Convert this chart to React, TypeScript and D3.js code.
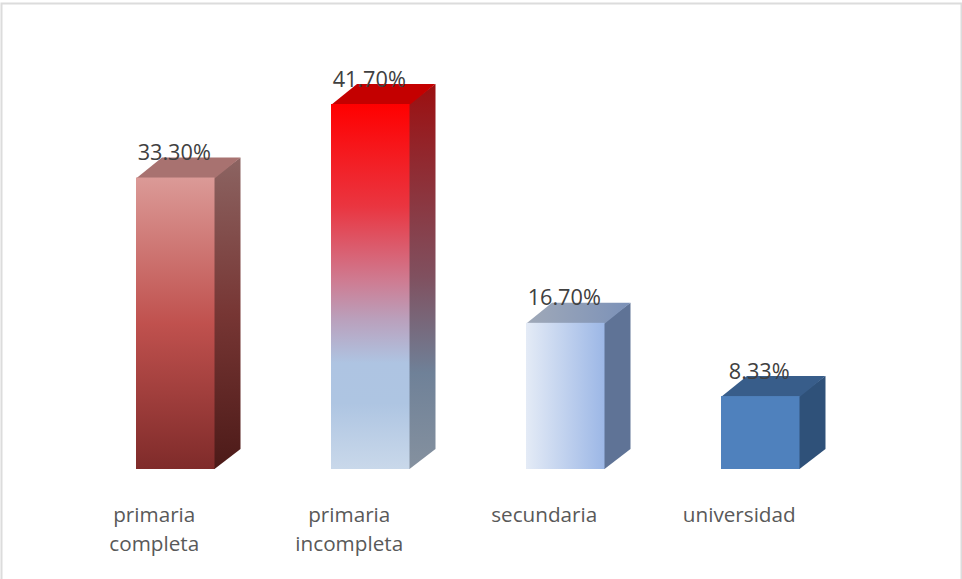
import React from "react";
import * as d3 from "d3";

const categories = ["primaria completa", "primaria incompleta", "secundaria", "universidad"];
const categoryLines = [["primaria", "completa"], ["primaria", "incompleta"], ["secundaria"], ["universidad"]];
const values = [33.3, 41.7, 16.7, 8.33];
const valueLabels = ["33.30%", "41.70%", "16.70%", "8.33%"];

type Stop = [number, string];
type Grad = { dir: "v" | "h"; stops: Stop[] };
const frontFills: Grad[] = [
  { dir: "v", stops: [[0, "#db9a97"], [0.5, "#c0514e"], [1, "#7f2b2a"]] },
  { dir: "v", stops: [[0, "#ff0000"], [0.28, "#ea3540"], [0.48, "#cf7a90"], [0.59, "#baa0bc"], [0.71, "#aec4e2"], [0.82, "#aec5e2"], [1, "#c9d8ea"]] },
  { dir: "h", stops: [[0, "#e4ebf6"], [1, "#9cb7e6"]] },
  { dir: "v", stops: [[0, "#4f81bd"], [1, "#4f81bd"]] },
];
const sideFills: Grad[] = [
  { dir: "v", stops: [[0, "#8c6462"], [0.5, "#773634"], [1, "#4c1a18"]] },
  { dir: "v", stops: [[0, "#9c0f10"], [0.5, "#80505f"], [0.75, "#6f8198"], [1, "#85919f"]] },
  { dir: "v", stops: [[0, "#5f7396"], [1, "#5f7396"]] },
  { dir: "v", stops: [[0, "#2f5179"], [1, "#2f5179"]] },
];
const topFills: Grad[] = [
  { dir: "v", stops: [[0, "#a87270"], [1, "#a87270"]] },
  { dir: "v", stops: [[0, "#c40000"], [1, "#c40000"]] },
  { dir: "h", stops: [[0, "#a0a9b8"], [1, "#7b91b8"]] },
  { dir: "v", stops: [[0, "#385d8a"], [1, "#385d8a"]] },
];

const WIDTH = 962;
const HEIGHT = 579;
const FONT = "'Open Sans', sans-serif";

const x = d3.scaleBand<string>().domain(categories).range([78.5, 857]).paddingInner(0.5974).paddingOuter(0.2949);
const y = d3.scaleLinear().domain([0, 41.7]).range([469, 104]);
const DX = 26;
const DY = 20;

function GradDef({ id, g }: { id: string; g: Grad }) {
  return (
    <linearGradient id={id} x1="0" y1="0" x2={g.dir === "h" ? 1 : 0} y2={g.dir === "v" ? 1 : 0}>
      {g.stops.map(([o, c], i) => <stop key={i} offset={o} stopColor={c} />)}
    </linearGradient>
  );
}

export default function App() {
  const bw = x.bandwidth();
  const path = d3.path;
  return (
    <svg width={WIDTH} height={HEIGHT} style={{ position: "absolute", left: 0, top: 0 }} fontFamily={FONT}>
      <defs>
        {categories.map((_, i) => (
          <React.Fragment key={i}>
            <GradDef id={`f${i}`} g={frontFills[i]} />
            <GradDef id={`s${i}`} g={sideFills[i]} />
            <GradDef id={`t${i}`} g={topFills[i]} />
          </React.Fragment>
        ))}
      </defs>
      <rect width={WIDTH} height={HEIGHT} fill="#fff" />
      <path d="M1.5,579V3.5H961.5V579" fill="none" stroke="#dcdcdc" strokeWidth={2} />
      {categories.map((c, i) => {
        const x0 = x(c)!;
        const x1 = x0 + bw;
        const yT = y(values[i]);
        const yB = y(0);
        const side = path();
        side.moveTo(x1 - 1, yT); side.lineTo(x1 + DX, yT - DY); side.lineTo(x1 + DX, yB - DY); side.lineTo(x1, yB); side.lineTo(x1 - 1, yB); side.closePath();
        const top = path();
        top.moveTo(x0, yT + 1); top.lineTo(x0 + DX, yT - DY); top.lineTo(x1 + DX, yT - DY); top.lineTo(x1, yT + 1); top.closePath();
        return (
          <g key={c}>
            <path d={side.toString()} fill={`url(#s${i})`} />
            <path d={top.toString()} fill={`url(#t${i})`} />
            <rect x={x0} y={yT} width={bw} height={yB - yT} fill={`url(#f${i})`} />
            <text x={x0 + bw / 2 - 1} y={yT - 17.5} textAnchor="middle" fontSize={21.7} fill="#404040">{valueLabels[i]}</text>
            <text textAnchor="middle" fontSize={20.7} fill="#595959">
              {categoryLines[i].map((l, j) => (
                <tspan key={j} x={x0 + bw / 2 - 21} y={522 + j * 29}>{l}</tspan>
              ))}
            </text>
          </g>
        );
      })}
    </svg>
  );
}
